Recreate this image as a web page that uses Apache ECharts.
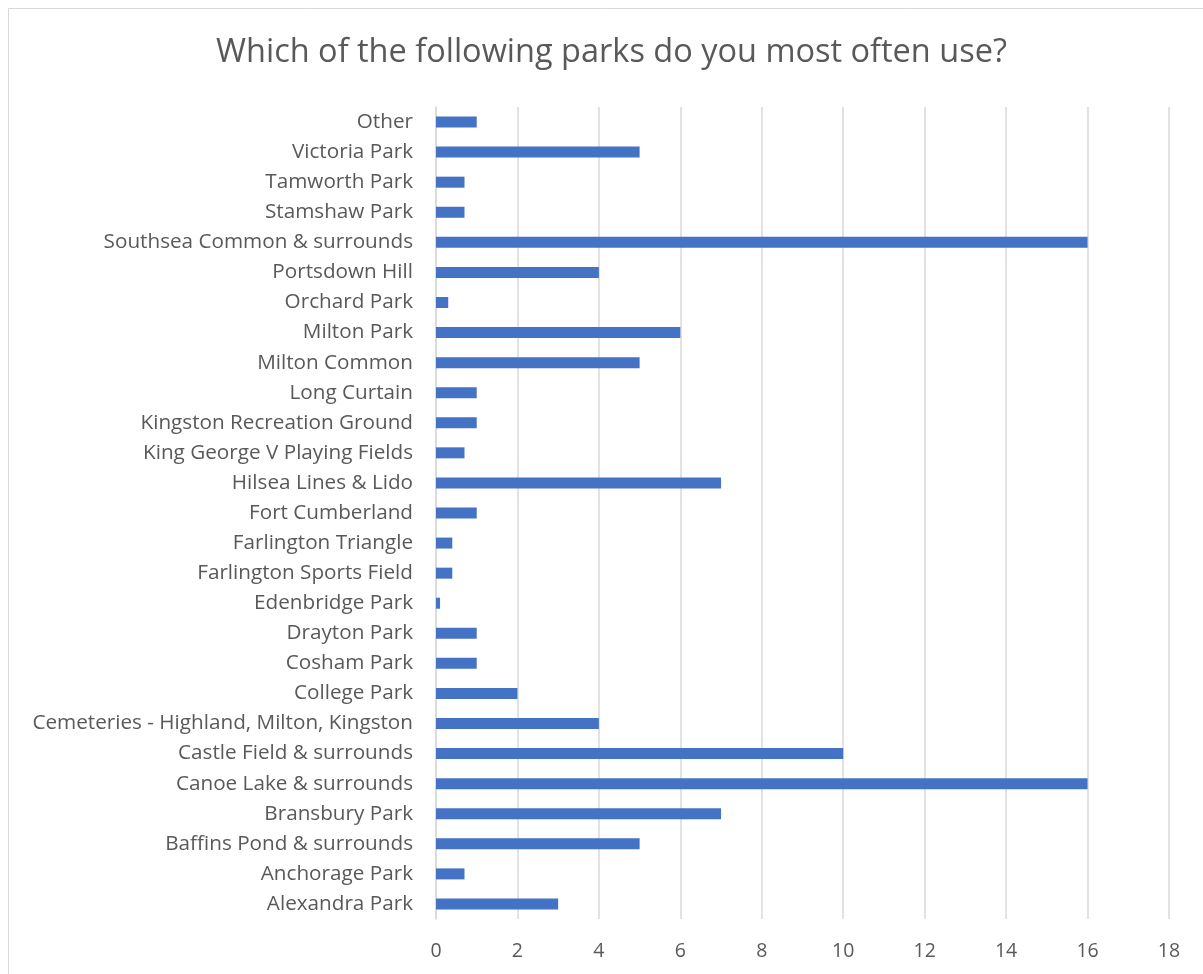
<!DOCTYPE html>
<html><head><meta charset="utf-8">
<script src="https://cdn.jsdelivr.net/npm/echarts@6/dist/echarts.min.js"></script>
<style>html,body{margin:0;padding:0;background:#fff;}#c{width:1203px;height:974px;}</style>
</head><body><div id="c"></div>
<script>
const categories = ["Alexandra Park","Anchorage Park","Baffins Pond & surrounds","Bransbury Park","Canoe Lake & surrounds","Castle Field & surrounds","Cemeteries - Highland, Milton, Kingston","College Park","Cosham Park","Drayton Park","Edenbridge Park","Farlington Sports Field","Farlington Triangle","Fort Cumberland","Hilsea Lines & Lido","King George V Playing Fields","Kingston Recreation Ground","Long Curtain","Milton Common","Milton Park","Orchard Park","Portsdown Hill","Southsea Common & surrounds","Stamshaw Park","Tamworth Park","Victoria Park","Other"];
const values = [3,0.7,5,7,16,10,4,2,1,1,0.1,0.4,0.4,1,7,0.7,1,1,5,6,0.3,4,16,0.7,0.7,5,1];
const xTicks = [0,2,4,6,8,10,12,14,16,18];
const title = "Which of the following parks do you most often use?";

const chart = echarts.init(document.getElementById('c'), null, {renderer:'canvas'});
chart.setOption({
  animation:false,
  backgroundColor:'#fff',
  graphic:[{type:'rect',shape:{x:8.5,y:8.5,width:1400,height:1200},style:{fill:'none',stroke:'#d9d9d9',lineWidth:1},silent:true}],
  title:{text:title,left:211,top:31,textStyle:{fontFamily:'Open Sans',fontWeight:'normal',fontSize:32.5,color:'#595959'}},
  grid:{left:436,right:34,top:107,bottom:55,containLabel:false},
  xAxis:{type:'value',min:xTicks[0],max:xTicks[xTicks.length-1],interval:2,
    axisLine:{show:false},axisTick:{show:false},
    splitLine:{lineStyle:{color:'#d9d9d9',width:1.5}},
    axisLabel:{color:'#595959',fontFamily:'Open Sans',fontSize:19.5,margin:22}},
  yAxis:{type:'category',data:categories,
    axisLine:{show:true,lineStyle:{color:'#d9d9d9',width:1.5}},axisTick:{show:false},
    axisLabel:{color:'#595959',fontFamily:'Open Sans',fontSize:20.7,margin:23,interval:0}},
  series:[{type:'bar',data:values,barWidth:11,itemStyle:{color:'#4472c4'}}]
});
</script></body></html>
